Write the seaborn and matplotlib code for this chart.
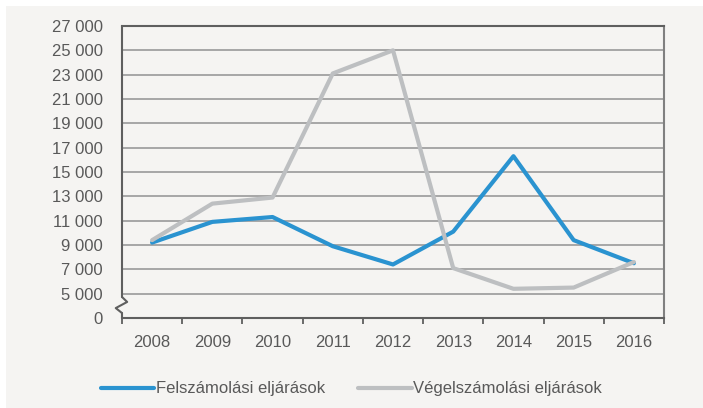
import pandas as pd
import matplotlib.pyplot as plt
import matplotlib.patches as mpatches
import seaborn as sns

# Data
years = [2008, 2009, 2010, 2011, 2012, 2013, 2014, 2015, 2016]
felszamolasi = [9200, 10900, 11300, 8900, 7400, 10100, 16300, 9400, 7500]
vegelszamolasi = [9400, 12400, 12900, 23100, 25000, 7100, 5400, 5500, 7600]
series_names = ['Felszámolási eljárások', 'Végelszámolási eljárások']
y_ticks = [3000, 5000, 7000, 9000, 11000, 13000, 15000, 17000, 19000,
           21000, 23000, 25000, 27000]
y_labels = ['0', '5 000', '7 000', '9 000', '11 000', '13 000', '15 000',
            '17 000', '19 000', '21 000', '23 000', '25 000', '27 000']

bg = '#f5f4f2'
text_col = '#595959'
spine_col = '#5f5f5f'
grid_col = '#a6a6a6'

df = pd.DataFrame({
    'year': years * 2,
    'value': felszamolasi + vegelszamolasi,
    'series': [series_names[0]] * len(years) + [series_names[1]] * len(years),
})

sns.set_theme(style='white')
plt.rcParams['font.family'] = ['Liberation Sans', 'DejaVu Sans']

fig = plt.figure(figsize=(7.03, 4.08), dpi=100, facecolor='white')
# grey panel inside a thin white frame
fig.patches.append(mpatches.Rectangle((6 / 703, 0), 1, 1 - 6 / 408,
                                      transform=fig.transFigure,
                                      facecolor=bg, edgecolor='none', zorder=-5))
ax = fig.add_axes([122 / 703, 1 - 318 / 408, 542 / 703, 292 / 408])
ax.set_zorder(2)
ax.set_facecolor(bg)

sns.lineplot(data=df, x='year', y='value', hue='series',
             hue_order=series_names,
             palette=['#2a93d0', '#bdbfc1'],
             linewidth=3.0, ax=ax, legend=True)

ax.set_xlim(2007.5, 2016.5)
ax.set_ylim(3000, 27000)
ax.set_yticks(y_ticks)
ax.set_yticklabels(y_labels)
ax.set_xticks(years)
ax.set_xticklabels([str(y) for y in years])
ax.set_xticks([y - 0.5 for y in years] + [years[-1] + 0.5], minor=True)
ax.tick_params(axis='x', which='major', length=0, pad=12,
               labelsize=12, labelcolor=text_col)
ax.tick_params(axis='x', which='minor', length=4, width=1.3,
               color=spine_col, direction='out', bottom=True)
ax.tick_params(axis='y', length=0, pad=14, labelsize=12, labelcolor=text_col)
ax.set_xlabel('')
ax.set_ylabel('')

# horizontal grid at every labelled value
for v in y_ticks[1:-1]:
    ax.axhline(v, color=grid_col, linewidth=1.4, zorder=0.5)

for side in ['top', 'bottom']:
    ax.spines[side].set_color(spine_col)
    ax.spines[side].set_linewidth(1.5)
ax.spines['right'].set_color('#808080')
ax.spines['right'].set_linewidth(1.5)
ax.spines['left'].set_visible(False)

# left axis line with a break mark between 0 and 5 000
brk = dict(color=spine_col, linewidth=1.5, transform=ax.transAxes,
           clip_on=False, zorder=3)
ax.plot([0, 0], [1, 0.072], **brk)
ax.plot([0, 0.0095, -0.0115, 0], [0.072, 0.055, 0.034, 0.017], **brk)
ax.plot([0, 0], [0.017, 0], **brk)

handles, labels = ax.get_legend_handles_labels()
ax.get_legend().remove()
fig.legend(handles, labels, loc='center', bbox_to_anchor=(0.5, 1 - 389 / 408),
           ncol=2, frameon=False, fontsize=12, handlelength=3.2,
           handletextpad=0.1, columnspacing=2.0, labelcolor=text_col)

plt.savefig('out.png', dpi=100, facecolor=fig.get_facecolor())
